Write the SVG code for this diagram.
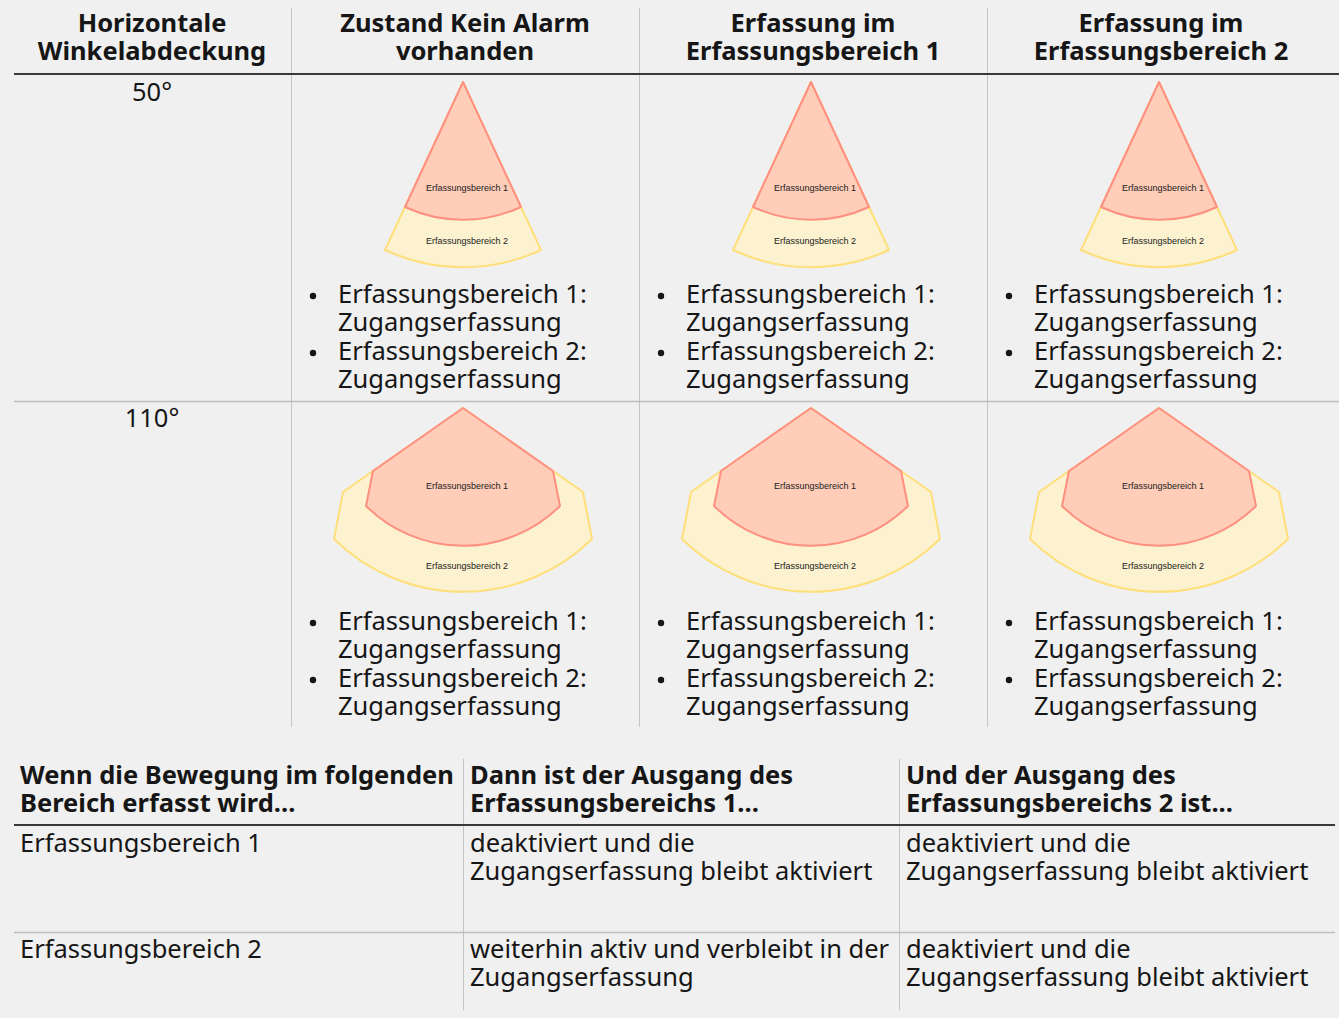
<svg xmlns="http://www.w3.org/2000/svg" width="1339" height="1018" viewBox="0 0 1339 1018">
<style>
.bg{fill:#f0f0f0}
.hd{font-family:"Noto Sans","Liberation Sans",sans-serif;font-weight:bold;font-size:25.5px;fill:#161616}
.tx{font-family:"Noto Sans","Liberation Sans",sans-serif;font-size:25.5px;fill:#161616}
.c{text-anchor:middle}
.lbl{font-family:"Liberation Sans",Arial,sans-serif;font-size:9px;fill:#222;text-anchor:middle}
.z1{fill:#ffcdb8;stroke:#ff8f80;stroke-width:2;stroke-linejoin:round}
.z2{fill:#fcf2cf;stroke:#ffdf7a;stroke-width:2;stroke-linejoin:round}
.vl{stroke:#c4c4c4;stroke-width:1}
.hl{stroke:#3a3a3a;stroke-width:2}
.rl{stroke:#bdbdbd;stroke-width:1.5}
</style>
<defs>
<g id="fan50">
<path class="z2" d="M0,82 L-78,250 A185,185 0 0 0 78,250 Z"/>
<path class="z1" d="M0,82 L-58,207 A138,138 0 0 0 58,207 Z"/>
<text class="lbl" x="4" y="191">Erfassungsbereich 1</text>
<text class="lbl" x="4" y="244">Erfassungsbereich 2</text>
</g>
<g id="fan110">
<path class="z2" d="M0,408 L-120,492 L-129,539 A184,184 0 0 0 129,539 L120,492 Z"/>
<path class="z1" d="M0,408 L-90,471 L-97,506 A138,138 0 0 0 97,506 L90,471 Z"/>
<text class="lbl" x="4" y="489">Erfassungsbereich 1</text>
<text class="lbl" x="4" y="569">Erfassungsbereich 2</text>
</g>
<g id="bul">
<circle cx="0" cy="0" r="3.2" fill="#161616"/>
</g>
</defs>
<rect class="bg" x="0" y="0" width="1339" height="1018"/>

<g id="table1-grid">
<line class="vl" x1="291.5" y1="8" x2="291.5" y2="727"/>
<line class="vl" x1="639.5" y1="8" x2="639.5" y2="727"/>
<line class="vl" x1="987.5" y1="8" x2="987.5" y2="727"/>
<line class="hl" x1="14" y1="74" x2="1339" y2="74"/>
<line class="rl" x1="14" y1="401.5" x2="1339" y2="401.5"/>
</g>

<g id="table1-header">
<text class="hd c" x="152" y="32">Horizontale</text>
<text class="hd c" x="152" y="60">Winkelabdeckung</text>
<text class="hd c" x="465" y="32">Zustand Kein Alarm</text>
<text class="hd c" x="465" y="60">vorhanden</text>
<text class="hd c" x="813" y="32">Erfassung im</text>
<text class="hd c" x="813" y="60">Erfassungsbereich 1</text>
<text class="hd c" x="1161" y="32">Erfassung im</text>
<text class="hd c" x="1161" y="60">Erfassungsbereich 2</text>
</g>

<g id="row50">
<text class="tx c" x="152" y="101">50°</text>
<g id="fan50-a"><use href="#fan50" x="463" y="0"/></g>
<g id="fan50-b"><use href="#fan50" x="811" y="0"/></g>
<g id="fan50-c"><use href="#fan50" x="1159" y="0"/></g>
<g id="list50-a">
<use href="#bul" x="313" y="296"/><use href="#bul" x="313" y="353"/>
<text class="tx" x="338" y="303">Erfassungsbereich 1:</text>
<text class="tx" x="338" y="331">Zugangserfassung</text>
<text class="tx" x="338" y="360">Erfassungsbereich 2:</text>
<text class="tx" x="338" y="388">Zugangserfassung</text>
</g>
<g id="list50-b">
<use href="#bul" x="661" y="296"/><use href="#bul" x="661" y="353"/>
<text class="tx" x="686" y="303">Erfassungsbereich 1:</text>
<text class="tx" x="686" y="331">Zugangserfassung</text>
<text class="tx" x="686" y="360">Erfassungsbereich 2:</text>
<text class="tx" x="686" y="388">Zugangserfassung</text>
</g>
<g id="list50-c">
<use href="#bul" x="1009" y="296"/><use href="#bul" x="1009" y="353"/>
<text class="tx" x="1034" y="303">Erfassungsbereich 1:</text>
<text class="tx" x="1034" y="331">Zugangserfassung</text>
<text class="tx" x="1034" y="360">Erfassungsbereich 2:</text>
<text class="tx" x="1034" y="388">Zugangserfassung</text>
</g>
</g>

<g id="row110">
<text class="tx c" x="152" y="427">110°</text>
<g id="fan110-a"><use href="#fan110" x="463" y="0"/></g>
<g id="fan110-b"><use href="#fan110" x="811" y="0"/></g>
<g id="fan110-c"><use href="#fan110" x="1159" y="0"/></g>
<g id="list110-a">
<use href="#bul" x="313" y="623"/><use href="#bul" x="313" y="680"/>
<text class="tx" x="338" y="630">Erfassungsbereich 1:</text>
<text class="tx" x="338" y="658">Zugangserfassung</text>
<text class="tx" x="338" y="687">Erfassungsbereich 2:</text>
<text class="tx" x="338" y="715">Zugangserfassung</text>
</g>
<g id="list110-b">
<use href="#bul" x="661" y="623"/><use href="#bul" x="661" y="680"/>
<text class="tx" x="686" y="630">Erfassungsbereich 1:</text>
<text class="tx" x="686" y="658">Zugangserfassung</text>
<text class="tx" x="686" y="687">Erfassungsbereich 2:</text>
<text class="tx" x="686" y="715">Zugangserfassung</text>
</g>
<g id="list110-c">
<use href="#bul" x="1009" y="623"/><use href="#bul" x="1009" y="680"/>
<text class="tx" x="1034" y="630">Erfassungsbereich 1:</text>
<text class="tx" x="1034" y="658">Zugangserfassung</text>
<text class="tx" x="1034" y="687">Erfassungsbereich 2:</text>
<text class="tx" x="1034" y="715">Zugangserfassung</text>
</g>
</g>

<g id="table2-grid">
<line class="vl" x1="463.5" y1="759" x2="463.5" y2="1010"/>
<line class="vl" x1="899.5" y1="759" x2="899.5" y2="1010"/>
<line class="hl" x1="14" y1="825" x2="1335" y2="825"/>
<line class="rl" x1="14" y1="932.5" x2="1335" y2="932.5"/>
</g>

<g id="table2-header">
<text class="hd" x="20" y="784">Wenn die Bewegung im folgenden</text>
<text class="hd" x="20" y="812">Bereich erfasst wird...</text>
<text class="hd" x="470" y="784">Dann ist der Ausgang des</text>
<text class="hd" x="470" y="812">Erfassungsbereichs 1...</text>
<text class="hd" x="906" y="784">Und der Ausgang des</text>
<text class="hd" x="906" y="812">Erfassungsbereichs 2 ist...</text>
</g>

<g id="table2-row1">
<text class="tx" x="20" y="852">Erfassungsbereich 1</text>
<text class="tx" x="470" y="852">deaktiviert und die</text>
<text class="tx" x="470" y="880">Zugangserfassung bleibt aktiviert</text>
<text class="tx" x="906" y="852">deaktiviert und die</text>
<text class="tx" x="906" y="880">Zugangserfassung bleibt aktiviert</text>
</g>

<g id="table2-row2">
<text class="tx" x="20" y="958">Erfassungsbereich 2</text>
<text class="tx" x="470" y="958">weiterhin aktiv und verbleibt in der</text>
<text class="tx" x="470" y="986">Zugangserfassung</text>
<text class="tx" x="906" y="958">deaktiviert und die</text>
<text class="tx" x="906" y="986">Zugangserfassung bleibt aktiviert</text>
</g>
</svg>
